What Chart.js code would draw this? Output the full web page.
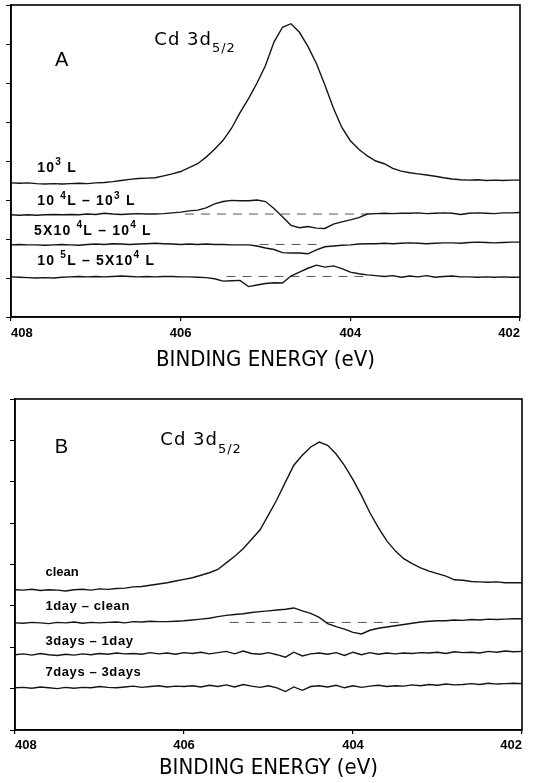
<!DOCTYPE html>
<html><head><meta charset="utf-8">
<script src="https://cdn.jsdelivr.net/npm/chart.js@4/dist/chart.umd.min.js"></script>
<style>
html,body{margin:0;padding:0;background:#fff;width:533px;height:783px;overflow:hidden}
canvas{position:absolute;left:0}
#ca{top:0}
#cb{top:383px}
</style></head><body>
<canvas id="ca" width="533" height="380"></canvas>
<canvas id="cb" width="533" height="400"></canvas>
<script>
// Binding energy grid (eV)
const energy = [408.0,407.9,407.8,407.7,407.6,407.5,407.4,407.3,407.2,407.1,
  407.0,406.9,406.8,406.7,406.6,406.5,406.4,406.3,406.2,406.1,
  406.0,405.9,405.8,405.7,405.6,405.5,405.4,405.3,405.2,405.1,
  405.0,404.9,404.8,404.7,404.6,404.5,404.4,404.3,404.2,404.1,
  404.0,403.9,403.8,403.7,403.6,403.5,403.4,403.3,403.2,403.1,
  403.0,402.9,402.8,402.7,402.6,402.5,402.4,402.3,402.2,402.1,402.0];
const xTicks = [402, 404, 406, 408];

// Panel A (offset intensities, arbitrary units)
const a_1e3 = [3.44,3.43,3.44,3.42,3.41,3.42,3.41,3.42,3.43,3.42,
  3.44,3.45,3.47,3.50,3.53,3.55,3.56,3.57,3.62,3.67,
  3.73,3.83,3.93,4.10,4.30,4.53,4.84,5.24,5.60,6.00,
  6.45,7.05,7.43,7.52,7.30,6.94,6.50,5.95,5.36,4.86,
  4.52,4.30,4.13,4.00,3.93,3.81,3.74,3.70,3.67,3.64,
  3.61,3.57,3.54,3.52,3.51,3.52,3.50,3.51,3.50,3.51,3.51];
const a_1e4_1e3 = [2.62,2.61,2.62,2.61,2.62,2.63,2.62,2.63,2.62,2.64,
  2.63,2.66,2.64,2.63,2.64,2.65,2.64,2.64,2.65,2.67,
  2.69,2.72,2.74,2.80,2.90,2.96,2.99,2.98,2.98,3.00,
  2.96,2.78,2.57,2.35,2.29,2.32,2.28,2.27,2.38,2.44,
  2.49,2.55,2.64,2.65,2.66,2.65,2.66,2.66,2.67,2.65,
  2.66,2.67,2.66,2.63,2.66,2.67,2.66,2.65,2.67,2.67,2.68];
const a_5e4_1e4 = [1.85,1.86,1.85,1.85,1.84,1.85,1.86,1.85,1.84,1.86,
  1.87,1.86,1.88,1.87,1.86,1.87,1.88,1.89,1.88,1.87,
  1.86,1.87,1.86,1.87,1.86,1.86,1.85,1.85,1.85,1.82,
  1.77,1.73,1.65,1.64,1.64,1.62,1.72,1.80,1.82,1.84,
  1.85,1.87,1.88,1.88,1.89,1.88,1.89,1.90,1.89,1.88,
  1.89,1.90,1.90,1.89,1.91,1.92,1.91,1.90,1.91,1.92,1.92];
const a_1e5_5e4 = [1.03,1.02,1.01,1.00,1.01,1.00,1.02,1.03,1.04,1.03,
  1.04,1.03,1.04,1.05,1.04,1.03,1.04,1.03,1.04,1.04,
  1.03,1.03,1.02,1.01,0.98,0.92,0.93,0.94,0.78,0.82,
  0.86,0.88,0.87,1.05,1.15,1.25,1.33,1.28,1.31,1.24,
  1.15,1.11,1.08,1.06,1.04,1.06,1.02,1.05,1.03,1.06,
  1.02,1.04,1.05,1.03,1.03,1.02,1.03,1.02,1.03,1.02,1.02];
// dashed reference baselines: [from eV, to eV, level]
const a_refs = [[405.95,403.80,2.64],[405.07,404.36,1.86],[405.46,403.81,1.04]];

// Panel B
const b_clean = [3.39,3.38,3.40,3.37,3.39,3.38,3.36,3.39,3.40,3.38,
  3.41,3.40,3.42,3.43,3.46,3.47,3.50,3.53,3.56,3.60,
  3.64,3.68,3.74,3.80,3.88,4.04,4.20,4.38,4.61,4.84,
  5.20,5.57,5.99,6.40,6.64,6.84,6.96,6.88,6.67,6.39,
  6.05,5.67,5.25,4.89,4.57,4.33,4.14,4.02,3.92,3.84,
  3.78,3.72,3.63,3.62,3.59,3.58,3.57,3.58,3.56,3.56,3.56];
const b_1day_clean = [2.59,2.58,2.60,2.59,2.57,2.60,2.59,2.61,2.58,2.60,
  2.59,2.60,2.61,2.59,2.62,2.61,2.63,2.62,2.62,2.63,
  2.64,2.66,2.68,2.70,2.74,2.77,2.79,2.81,2.84,2.86,
  2.88,2.90,2.92,2.95,2.88,2.82,2.72,2.57,2.50,2.44,
  2.36,2.32,2.41,2.46,2.49,2.52,2.55,2.58,2.61,2.63,
  2.64,2.64,2.66,2.65,2.67,2.66,2.68,2.67,2.68,2.69,2.69];
const b_3days_1day = [1.82,1.84,1.81,1.85,1.82,1.80,1.83,1.81,1.84,1.82,
  1.85,1.83,1.86,1.84,1.85,1.83,1.87,1.84,1.86,1.83,
  1.87,1.85,1.88,1.84,1.87,1.90,1.84,1.91,1.85,1.83,
  1.87,1.82,1.76,1.88,1.79,1.84,1.86,1.83,1.87,1.80,
  1.88,1.82,1.87,1.83,1.86,1.84,1.86,1.85,1.87,1.86,
  1.88,1.85,1.89,1.87,1.88,1.86,1.90,1.88,1.91,1.89,1.90];
const b_7days_3days = [1.02,1.03,1.01,1.04,1.02,1.00,1.03,1.01,1.03,1.02,
  1.05,1.03,1.02,1.04,1.06,1.03,1.05,1.07,1.04,1.06,
  1.05,1.07,1.04,1.08,1.05,1.09,1.04,1.10,1.06,1.03,
  1.07,1.02,0.93,1.04,0.96,1.05,1.07,1.04,1.08,1.02,
  1.07,1.03,1.06,1.08,1.05,1.07,1.06,1.09,1.07,1.10,
  1.08,1.11,1.09,1.10,1.12,1.10,1.13,1.11,1.12,1.13,1.12];
const b_refs = [[405.46,403.44,2.60]];

const LINE = '#141414';
const SANS = "'Liberation Sans', Arial, sans-serif";
const NARROW = "'Liberation Sans Narrow', 'DejaVu Sans Condensed', 'Liberation Sans', sans-serif";

function series(vals) {
  return { data: energy.map((e, i) => ({x: e, y: vals[i]})), borderColor: LINE, borderWidth: 1.4,
           pointRadius: 0, tension: 0, fill: false };
}
function refLine(r) {
  return { data: [{x: r[0], y: r[2]}, {x: r[1], y: r[2]}], borderColor: '#555', borderWidth: 1,
           borderDash: [9, 7], pointRadius: 0, tension: 0, fill: false };
}

function drawRuns(ctx, runs, x, y, size, weight, family, spacing) {
  let cx = x;
  ctx.save();
  ctx.fillStyle = '#000';
  ctx.textBaseline = 'middle';
  ctx.textAlign = 'left';
  try { ctx.letterSpacing = spacing || '0px'; } catch (e) {}
  for (const [t, k] of runs) {
    const s = k === 0 ? size : size * 0.72;
    const dy = k === 1 ? -size * 0.38 : (k === -1 ? size * 0.5 : 0);
    ctx.font = `${weight} ${s}px ${family}`;
    ctx.fillText(t, cx, y + dy);
    cx += ctx.measureText(t).width;
  }
  ctx.restore();
}

const decor = {
  id: 'decor',
  afterDatasetsDraw(chart, args, opts) {
    const {ctx, chartArea: ca, scales} = chart;
    ctx.save();
    ctx.strokeStyle = '#000';
    ctx.lineWidth = 1.6;
    ctx.strokeRect(ca.left, ca.top, ca.right - ca.left, ca.bottom - ca.top);
    ctx.restore();
    for (const it of opts.items) {
      const px = scales.x.getPixelForValue(it.e);
      const py = scales.y.getPixelForValue(it.v);
      drawRuns(ctx, it.runs, px, py, it.size, it.weight, it.family, it.spacing);
    }
  }
};

function makeChart(id, datasets, padTop, padRight, yWidth, xHeight, titlePad, tickPad, items) {
  return new Chart(document.getElementById(id), {
    type: 'line',
    data: { datasets },
    options: {
      responsive: false, animation: false, events: [],
      layout: { padding: { top: padTop, right: padRight, left: 0, bottom: 0 } },
      plugins: { legend: { display: false }, tooltip: { enabled: false }, decor: { items } },
      scales: {
        x: {
          type: 'linear', reverse: true, min: 402, max: 408,
          afterBuildTicks: s => { s.ticks = xTicks.map(v => ({value: v})); },
          afterFit: s => { s.height = xHeight; },
          grid: { drawOnChartArea: false, drawTicks: true, tickLength: 4, color: '#000', lineWidth: 1.2 },
          border: { display: true, color: '#000', width: 1.6 },
          ticks: { align: 'inner', padding: tickPad, color: '#000', maxRotation: 0,
                   font: { family: SANS, size: 13, weight: 'bold' },
                   callback: v => String(v) },
          title: { display: true, text: 'BINDING ENERGY (eV)', color: '#000',
                   font: { family: NARROW, size: 22, weight: 'normal' },
                   padding: { top: 0, bottom: titlePad } }
        },
        y: {
          type: 'linear', min: 0, max: 8,
          afterBuildTicks: s => { s.ticks = [0,1,2,3,4,5,6,7,8].map(v => ({value: v})); },
          afterFit: s => { s.width = yWidth; },
          grid: { drawOnChartArea: false, drawTicks: true, tickLength: 5, color: '#000', lineWidth: 1 },
          border: { display: true, color: '#000', width: 1.6 },
          ticks: { display: false }
        }
      }
    },
    plugins: [decor]
  });
}

const labelFont = { size: 14, weight: 'bold', family: SANS };
const itemsA = [
  { runs: [['A', 0]], e: 407.48, v: 6.59, size: 20, weight: 'normal', family: SANS },
  { runs: [['Cd 3d', 0], ['5/2', -1]], e: 406.31, v: 7.10, size: 18, weight: 'normal', family: "'DejaVu Sans', sans-serif", spacing: '1px' },
  { runs: [['10', 0], ['3', 1], [' L', 0]], e: 407.69, v: 3.82, ...labelFont, spacing: '1.2px' },
  { runs: [['10 ', 0], ['4', 1], ['L \u2013 10', 0], ['3', 1], [' L', 0]], e: 407.69, v: 2.97, ...labelFont, spacing: '1.2px' },
  { runs: [['5X10 ', 0], ['4', 1], ['L \u2013 10', 0], ['4', 1], [' L', 0]], e: 407.73, v: 2.21, ...labelFont, spacing: '1.2px' },
  { runs: [['10 ', 0], ['5', 1], ['L \u2013 5X10', 0], ['4', 1], [' L', 0]], e: 407.69, v: 1.44, ...labelFont, spacing: '1.2px' }
];
const labelFontB = { size: 13, weight: 'bold', family: SANS };
const itemsB = [
  { runs: [['B', 0]], e: 407.53, v: 6.83, size: 20, weight: 'normal', family: SANS },
  { runs: [['Cd 3d', 0], ['5/2', -1]], e: 406.28, v: 7.00, size: 18, weight: 'normal', family: "'DejaVu Sans', sans-serif", spacing: '1px' },
  { runs: [['clean', 0]], e: 407.64, v: 3.80, ...labelFontB },
  { runs: [['1day \u2013 clean', 0]], e: 407.64, v: 2.98, ...labelFontB, spacing: '0.6px' },
  { runs: [['3days \u2013 1day', 0]], e: 407.64, v: 2.15, ...labelFontB, spacing: '0.6px' },
  { runs: [['7days \u2013 3days', 0]], e: 407.64, v: 1.40, ...labelFontB, spacing: '0.6px' }
];

makeChart('ca', [series(a_1e3), series(a_1e4_1e3), series(a_5e4_1e4), series(a_1e5_5e4), ...a_refs.map(refLine)],
  5, 13, 11, 63, 7, 5, itemsA);
makeChart('cb', [series(b_clean), series(b_1day_clean), series(b_3days_1day), series(b_7days_3days), ...b_refs.map(refLine)],
  16, 11, 15, 53, 2, 4, itemsB);
</script>
</body></html>
